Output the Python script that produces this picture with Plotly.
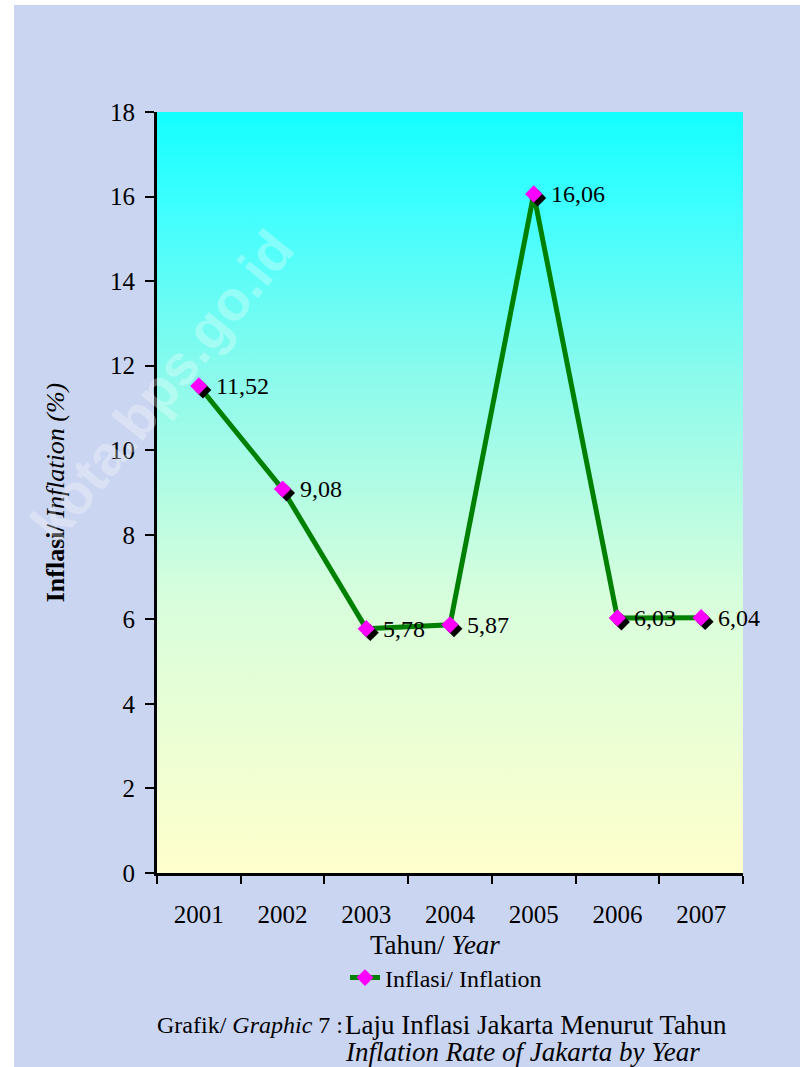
import plotly.graph_objects as go

# data
years = ['2001', '2002', '2003', '2004', '2005', '2006', '2007']
inflation = [11.52, 9.08, 5.78, 5.87, 16.06, 6.03, 6.04]
labels = ['11,52', '9,08', '5,78', '5,87', '16,06', '6,03', '6,04']
y_ticks = [0, 2, 4, 6, 8, 10, 12, 14, 16, 18]

pos = list(range(len(years)))
bounds = [p - 0.5 for p in pos] + [pos[-1] + 0.5]
xr = [bounds[0], bounds[-1]]
yr = [0, 18]

# plot area in pixels
L, R, T, B = 157, 57, 112, 194
W, H = 800 - L - R, 1067 - T - B
px = lambda v: (v - L) / W
py = lambda v: (873 - v) / H

# pixel offset of the black marker shadow, as axis shift
sx = 4 / W * (xr[1] - xr[0])
sy = 4 / H * (yr[1] - yr[0])

serif = 'Liberation Serif, Times New Roman, serif'

fig = go.Figure()

# gradient plot background
fig.add_trace(go.Scatter(
    x=[xr[0], xr[1], xr[1], xr[0], xr[0]], y=[yr[0], yr[0], yr[1], yr[1], yr[0]],
    mode='lines', line=dict(width=0), fill='toself',
    fillgradient=dict(type='vertical', start=yr[0], stop=yr[1],
                      colorscale=[[0, '#ffffcc'], [0.36, '#d8fedc'], [0.65, '#8cfaec'],
                                  [0.88, '#3cffff'], [1, '#14ffff']]),
    hoverinfo='skip', showlegend=False))

fig.add_trace(go.Scatter(
    x=pos, y=inflation, mode='lines+markers', name='Inflasi/ Inflation',
    line=dict(color='#008000', width=5),
    marker=dict(symbol='diamond', size=13, color='#ff00ff'),
    showlegend=True))

# shadow diamonds (same data, shifted axes)
fig.add_trace(go.Scatter(
    x=pos, y=inflation, mode='markers', xaxis='x2', yaxis='y2',
    marker=dict(symbol='diamond', size=13, color='black'),
    hoverinfo='skip', showlegend=False))

# magenta diamonds on top
fig.add_trace(go.Scatter(
    x=pos, y=inflation, mode='markers', xaxis='x3', yaxis='y3',
    marker=dict(symbol='diamond', size=13, color='#ff00ff'),
    hoverinfo='skip', showlegend=False))

annotations = []
for p, v, t in zip(pos, inflation, labels):
    annotations.append(dict(x=p, y=v, xref='x', yref='y', text=t, showarrow=False,
                            xanchor='left', yanchor='middle', xshift=15,
                            font=dict(family=serif, size=24, color='black')))

annotations += [
    dict(x=px(162), y=py(385), xref='paper', yref='paper', text='<b>kota.bps.go.id</b>',
         showarrow=False, textangle=-51, xanchor='center', yanchor='middle',
         font=dict(family='Liberation Sans, Arial', size=56, color='rgba(255,255,255,0.3)')),
    dict(x=px(435), y=py(945), xref='paper', yref='paper', text='Tahun/ <i>Year</i>',
         showarrow=False, xanchor='center', yanchor='middle',
         font=dict(family=serif, size=27, color='black')),
    dict(x=px(155), y=py(1025), xref='paper', yref='paper',
         text='Grafik/ <i>Graphic</i> 7 :',
         showarrow=False, xanchor='left', yanchor='middle',
         font=dict(family=serif, size=24, color='black')),
    dict(x=px(343), y=py(1025), xref='paper', yref='paper',
         text='Laju Inflasi Jakarta Menurut Tahun',
         showarrow=False, xanchor='left', yanchor='middle',
         font=dict(family=serif, size=27, color='black')),
    dict(x=px(343), y=py(1052), xref='paper', yref='paper',
         text='<i>Inflation Rate of Jakarta by Year</i>',
         showarrow=False, xanchor='left', yanchor='middle',
         font=dict(family=serif, size=27, color='black')),
]

shapes = [
    dict(type='rect', xref='paper', yref='paper', x0=px(0), x1=px(14), y0=py(1067), y1=py(0),
         fillcolor='white', line=dict(width=0), layer='below'),
    dict(type='rect', xref='paper', yref='paper', x0=px(0), x1=px(800), y0=py(5), y1=py(0),
         fillcolor='white', line=dict(width=0), layer='below'),
]

fig.update_layout(
    width=800, height=1067,
    margin=dict(l=L, r=R, t=T, b=B),
    paper_bgcolor='#cad5f1',
    plot_bgcolor='rgba(0,0,0,0)',
    font=dict(family=serif, size=25, color='black'),
    hovermode=False,
    xaxis=dict(range=xr, tickmode='array', tickvals=pos, ticktext=years, ticks='',
               ticklabelstandoff=17, showgrid=False, zeroline=False,
               showline=True, linecolor='black', linewidth=3,
               minor=dict(tickmode='array', tickvals=bounds, ticks='outside', ticklen=8,
                          tickwidth=2, tickcolor='black', showgrid=False)),
    yaxis=dict(range=yr, tickmode='array', tickvals=y_ticks, ticks='outside', ticklen=9,
               tickwidth=2, tickcolor='black', showgrid=False, zeroline=False,
               showline=True, linecolor='black', linewidth=3, ticklabelstandoff=5,
               title=dict(text='<b>Inflasi/</b> <i>Inflation (%)</i>', standoff=38,
                          font=dict(family=serif, size=26))),
    xaxis2=dict(overlaying='x', range=[xr[0] - sx, xr[1] - sx], visible=False),
    yaxis2=dict(overlaying='y', range=[yr[0] + sy, yr[1] + sy], visible=False),
    xaxis3=dict(overlaying='x', range=xr, visible=False),
    yaxis3=dict(overlaying='y', range=yr, visible=False),
    legend=dict(x=px(345), y=py(978), xanchor='left', yanchor='middle',
                bgcolor='rgba(0,0,0,0)', font=dict(family=serif, size=24)),
    annotations=annotations,
    shapes=shapes,
)

fig.write_html('out.html', config={'displayModeBar': False},
               post_script="document.body.style.margin='0';")
